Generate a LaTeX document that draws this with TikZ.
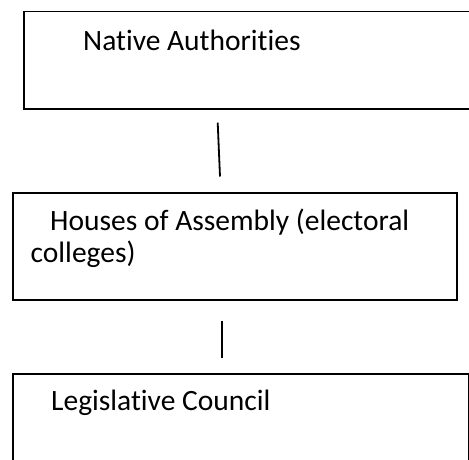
\documentclass[tikz,border=0pt]{standalone}
\usepackage{fontspec}
\setmainfont{Carlito}[Ligatures={NoCommon}]
\begin{document}
\begin{tikzpicture}[x=1pt,y=-1pt,
  box/.style={draw=black, line width=1.6pt, rectangle, inner sep=0pt, anchor=north west},
  label/.style={anchor=base west, inner sep=0pt, font=\fontsize{29.5}{32}\selectfont},
  link/.style={draw=black, line width=1.8pt}]
  \useasboundingbox (0,0) rectangle (469,459);
  \clip (0,0) rectangle (469,459);
  \fill[white] (0,0) rectangle (469,459);

  % boxes
  \node[box, minimum width=480pt, minimum height=97.5pt] (na) at (23,10.5) {};
  \node[box, minimum width=444pt, minimum height=107pt] (ha) at (12,192) {};
  \node[box, minimum width=456pt, minimum height=110pt] (lc) at (12,373.3) {};

  % labels
  \node[label] (naT) at (83,50) {Native Authorities};
  \node[label] (haT1) at (50,230) {Houses of Assembly (electoral};
  \node[label] (haT2) at (30.5,262) {colleges)};
  \node[label] (lcT) at (51,410) {Legislative Council};

  % connector ends
  \coordinate (l1a) at (217.7,122.7);
  \coordinate (l1b) at (220,176.5);
  \coordinate (l2a) at (222.3,320.7);
  \coordinate (l2b) at (222.3,358.3);
  \draw[link] (l1a) -- (l1b);
  \draw[link] (l2a) -- (l2b);
\end{tikzpicture}
\end{document}
